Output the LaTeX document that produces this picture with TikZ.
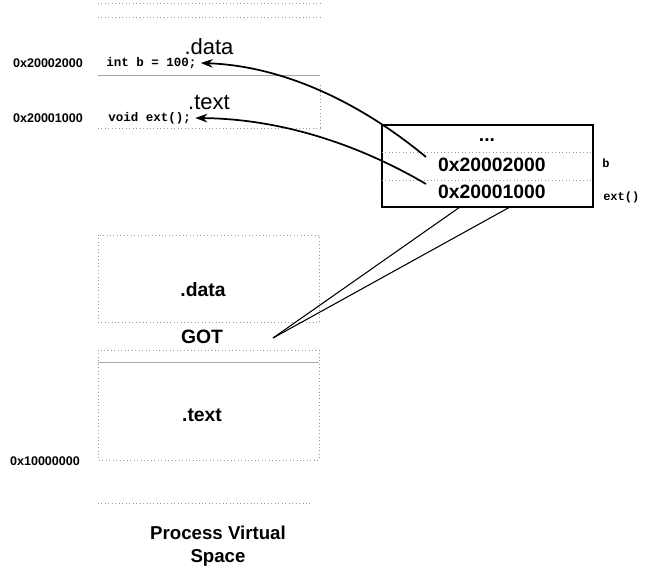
\documentclass[tikz,border=0pt]{standalone}
\usepackage{fontspec}
\setmainfont{Liberation Sans}
\newfontfamily\monof{Liberation Mono}
\usetikzlibrary{arrows.meta}
\begin{document}
\begin{tikzpicture}[x=0.75pt,y=-0.75pt,
  dotline/.style={draw=gray!80, dotted, line width=0.6pt},
  solidgray/.style={draw=gray!70, line width=0.6pt},
  addr/.style={font=\fontsize{9.4}{11}\selectfont\bfseries, inner sep=0pt},
  code/.style={font=\monof\fontsize{9.4}{11}\selectfont\bfseries, inner sep=0pt},
  seclbl/.style={font=\fontsize{16.5}{19}\selectfont, inner sep=0pt},
  bigbold/.style={font=\fontsize{14.5}{17}\selectfont\bfseries, inner sep=0pt},
  valtxt/.style={font=\fontsize{14.5}{17}\selectfont\bfseries, inner sep=0pt},
  ptr/.style={draw=black, line width=1.3pt, -{Stealth[length=9pt,width=6.5pt]}},
  gotline/.style={draw=black, line width=0.8pt}]
\useasboundingbox[fill=white] (0,0) rectangle (646,570);

% top shared library area
\draw[dotline] (98,3) -- (320,3);
\draw[dotline] (98,17) -- (320,17);
\node[seclbl] (sdata) at (209,47) {.data};
\node[addr] (a1) at (48,63) {0x20002000};
\node[code, anchor=west] (intb) at (106,63) {int b = 100;};
\draw[solidgray] (98,75) -- (320,75);
\node[seclbl] (stext) at (209,102) {.text};
\node[addr] (a2) at (48,118) {0x20001000};
\node[code, anchor=west] (vext) at (108,118) {void ext();};
\draw[dotline] (98,128) -- (320,128);
\draw[dotline] (320,85) -- (320,128);

% GOT box on right
\node[draw=black, line width=0.8pt, minimum width=211*0.75pt, minimum height=82*0.75pt, inner sep=0pt] (gotbox) at (487.5,166) {};
\draw[dotline] (382,152) -- (593,152);
\draw[dotline] (382,180) -- (593,180);
\node[valtxt] (dots) at (487,140) {...};
\node[valtxt] (v1) at (492,165) {0x20002000};
\node[valtxt] (v2) at (492,192) {0x20001000};
\node[code, anchor=west, font=\monof\fontsize{9}{10}\selectfont\bfseries] (lb) at (602,163) {b};
\node[code, anchor=west, font=\monof\fontsize{9}{10}\selectfont\bfseries] (lext) at (603,197) {ext()};

% pointer arrows
\coordinate (s1) at (426,157);
\coordinate (s2) at (426,184);
\draw[ptr] (s1) .. controls (362,104) and (285,66) .. ([xshift=3pt]intb.east);
\draw[ptr] (s2) .. controls (368,150) and (290,119) .. ([xshift=3pt]vext.east);

% program area
\draw[dotline] (98,235) rectangle (319,322);
\node[bigbold] (pdata) at (203,290) {.data};
\node[bigbold] (got) at (202,337) {GOT};
\draw[dotline] (98,350) rectangle (319,460);
\draw[solidgray] (98,362) -- (319,362);
\node[bigbold] (ptext) at (202,415) {.text};
\node[addr] (a3) at (45,461) {0x10000000};
\draw[dotline] (98,503) -- (312,503);

% GOT connections
\coordinate (gp) at (273,338);
\coordinate (b1) at (460,207);
\coordinate (b2) at (510,207);
\draw[gotline] (gp) -- (b1);
\draw[gotline] (gp) -- (b2);

\node[font=\fontsize{14}{17}\selectfont\bfseries, align=center, inner sep=0pt] (pvs) at (218,546) {Process Virtual\\Space};
\end{tikzpicture}
\end{document}
